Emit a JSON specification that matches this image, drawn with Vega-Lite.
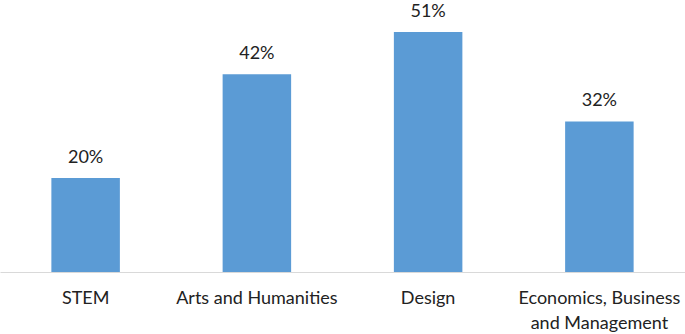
{
  "$schema": "https://vega.github.io/schema/vega-lite/v6.json",
  "width": 685,
  "height": 272,
  "padding": 0,
  "background": "white",
  "config": {"view": {"stroke": null}, "font": "Lato"},
  "data": {"values": [
    {"field": "STEM", "share": 0.20},
    {"field": "Arts and Humanities", "share": 0.42},
    {"field": "Design", "share": 0.51},
    {"field": "Economics, Business and Management", "share": 0.32}
  ]},
  "encoding": {
    "x": {
      "field": "field", "type": "nominal", "sort": null,
      "scale": {"paddingInner": 0.6, "paddingOuter": 0.3},
      "axis": {
        "title": null, "labelAngle": 0, "ticks": false,
        "domainColor": "#d9d9d9", "domainWidth": 1,
        "labelFont": "Lato", "labelFontSize": 18, "labelColor": "#222222",
        "labelBaseline": "alphabetic", "labelPadding": 31, "labelLineHeight": 25,
        "labelLimit": 300,
        "labelExpr": "datum.label == 'Economics, Business and Management' ? ['Economics, Business', 'and Management'] : datum.label"
      }
    },
    "y": {
      "field": "share", "type": "quantitative",
      "scale": {"domain": [0, 0.578], "nice": false, "zero": true},
      "axis": null
    }
  },
  "layer": [
    {"mark": {"type": "bar", "color": "#5b9bd5"}},
    {
      "mark": {"type": "text", "baseline": "alphabetic", "dy": -15, "fontSize": 18, "color": "#222222", "font": "Lato"},
      "encoding": {"text": {"field": "share", "type": "quantitative", "format": ".0%"}}
    }
  ]
}
